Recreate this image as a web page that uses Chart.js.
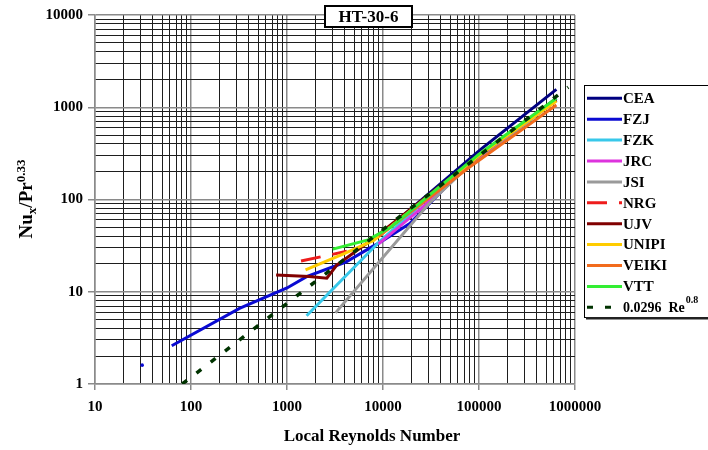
<!DOCTYPE html>
<html>
<head>
<meta charset="utf-8">
<script src="https://cdn.jsdelivr.net/npm/chart.js@4.4.0/dist/chart.umd.min.js"></script>
<style>
  html, body { margin: 0; padding: 0; background: #fff; }
</style>
</head>
<body>
<canvas id="c" width="708" height="450"></canvas>
<script>
// Values (Re_x vs Nu_x/Pr^0.33)
const ceaRe = [9000, 30000, 105000, 640000];
const ceaNu = [40, 116, 351, 1565];

const fzjRe = [63, 320, 1000, 1600, 4100, 7800, 9200, 19000, 60000, 640000];
const fzjNu = [2.6, 6.6, 11, 14.6, 21, 31, 34, 55, 185, 1250];

const fzkRe = [1600, 9200, 30000, 640000];
const fzkNu = [5.5, 35, 105, 1200];

const jrcRe = [9000, 25000, 100000, 640000];
const jrcNu = [33, 80, 290, 1200];

const jsiRe = [3200, 30000, 100000, 640000];
const jsiNu = [5.9, 90, 295, 1200];

const nrgRe = [1400, 4200];
const nrgNu = [21.5, 27.5];

const ujvRe = [770, 1700, 2600, 3300, 7200, 100000, 640000];
const ujvNu = [15.2, 14.6, 14.0, 19.5, 35, 300, 1200];

const unipiRe = [1560, 4000, 8000, 100000, 640000];
const unipiNu = [17.3, 26, 36, 300, 1170];

const veikiRe = [9000, 80000, 640000];
const veikiNu = [40, 225, 1060];

const vttRe = [3000, 7000, 12000, 100000, 640000];
const vttNu = [29, 36.5, 50, 310, 1250];

const corrRe = [81, 850000];
const corrNu = [1.0, 1650];

// stray FZJ point at low Re
const fzjDotRe = [31];
const fzjDotNu = [1.6];

const labels = ["CEA", "FZJ", "FZK", "JRC", "JSI", "NRG", "UJV", "UNIPI", "VEIKI", "VTT", "0.0296 Re"];

// axis decades (tick labels) and minor gridline steps
const reDecades = [10, 100, 1000, 10000, 100000, 1000000];
const nuDecades = [1, 10, 100, 1000, 10000];
const minorSteps = [1, 2, 3, 4, 5, 6, 7, 8, 9];

// styles
const colors = ["#000080", "#0a0ad2", "#38c8ea", "#dd33dd", "#9a9a9a", "#ee1c1c",
                "#800000", "#ffcc00", "#f26b1d", "#33ee33", "#003300"];
const dashes = { "NRG": [20, 12], "0.0296 Re": [6, 12] };

const SERIF = "'Liberation Serif', 'Times New Roman', serif";

const zip = (xs, ys) => xs.map((x, i) => ({ x: x, y: ys[i] }));

const allTicks = (decades) => {
  const out = [];
  decades.forEach((d, i) => {
    if (i === decades.length - 1) { out.push(d); return; }
    minorSteps.forEach(m => out.push(d * m));
  });
  return out;
};
const reTicks = allTicks(reDecades);
const nuTicks = allTicks(nuDecades);

const isDecade = (v) => Math.abs(Math.log10(v) - Math.round(Math.log10(v))) < 1e-9;

const seriesData = [
  [ceaRe, ceaNu], [fzjRe, fzjNu], [fzkRe, fzkNu], [jrcRe, jrcNu], [jsiRe, jsiNu],
  [nrgRe, nrgNu], [ujvRe, ujvNu], [unipiRe, unipiNu], [veikiRe, veikiNu],
  [vttRe, vttNu], [corrRe, corrNu]
];

const datasets = seriesData.map(([re, nu], i) => ({
  label: labels[i],
  data: zip(re, nu),
  showLine: true,
  borderColor: colors[i],
  backgroundColor: colors[i],
  borderWidth: labels[i] === "0.0296 Re" ? 3.5 : 3,
  borderDash: dashes[labels[i]] || [],
  pointRadius: 0,
  tension: 0,
  fill: false,
  order: seriesData.length - i   // Excel-like stacking: later series on top
}));

datasets.push({
  label: "FZJ point",
  noLegend: true,
  data: zip(fzjDotRe, fzjDotNu),
  showLine: false,
  pointRadius: 1.8,
  pointBorderWidth: 0,
  backgroundColor: colors[1],
  borderColor: colors[1],
  order: 20
});

// title box, axis titles and the legend panel
const decor = {
  id: "decor",
  beforeDraw(chart) {
    const ctx = chart.ctx;
    ctx.save();
    ctx.fillStyle = "#fff";
    ctx.fillRect(0, 0, chart.width, chart.height);
    ctx.restore();
  },
  afterDraw(chart) {
    const ctx = chart.ctx;
    ctx.save();

    // title box
    ctx.fillStyle = "#fff";
    ctx.fillRect(324, 5, 89, 23);
    ctx.strokeStyle = "#000";
    ctx.lineWidth = 2;
    ctx.strokeRect(325, 6, 87, 21);
    ctx.fillStyle = "#000";
    ctx.font = "bold 17px " + SERIF;
    ctx.textAlign = "center";
    ctx.textBaseline = "middle";
    ctx.fillText("HT-30-6", 368.5, 17.5);

    // x axis title
    ctx.font = "bold 17px " + SERIF;
    ctx.fillText("Local Reynolds Number", 372, 437);

    // y axis title: Nu_x / Pr^0.33
    const big = "bold 19px " + SERIF, small = "bold 13px " + SERIF;
    const parts = [
      { t: "Nu", f: big, dy: 0 },
      { t: "x", f: small, dy: 4 },
      { t: "/Pr", f: big, dy: 0 },
      { t: "0.33", f: small, dy: -7 }
    ];
    let total = 0;
    parts.forEach(p => { ctx.font = p.f; p.w = ctx.measureText(p.t).width; total += p.w; });
    ctx.translate(32, 199);
    ctx.rotate(-Math.PI / 2);
    ctx.textAlign = "left";
    ctx.textBaseline = "alphabetic";
    let px = -total / 2;
    parts.forEach(p => { ctx.font = p.f; ctx.fillText(p.t, px, p.dy); px += p.w; });
    ctx.setTransform(1, 0, 0, 1, 0, 0);

    // legend panel
    const lx = 584, ly = 85, lw = 130, lh = 232;
    ctx.fillStyle = "#fff";
    ctx.fillRect(lx, ly, lw, lh);
    ctx.strokeStyle = "#000";
    ctx.lineWidth = 1;
    ctx.strokeRect(lx + 0.5, ly + 0.5, lw, lh);
    ctx.fillStyle = "#222";
    ctx.fillRect(lx + 2, ly + lh, lw, 2.5);

    const items = chart.data.datasets.filter(d => !d.noLegend);
    items.forEach((d, i) => {
      const y = 98.3 + i * 20.9;
      ctx.strokeStyle = d.borderColor;
      ctx.lineWidth = 3;
      ctx.setLineDash(d.borderDash || []);
      ctx.beginPath();
      ctx.moveTo(587, y);
      ctx.lineTo(d.label === "0.0296 Re" ? 612 : 622, y);
      ctx.stroke();
      ctx.setLineDash([]);
      ctx.fillStyle = "#000";
      ctx.textBaseline = "middle";
      ctx.textAlign = "left";
      if (d.label === "0.0296 Re") {
        ctx.font = "bold 14px " + SERIF;
        ctx.fillText("0.0296  Re", 623, y + 1);
        const w = ctx.measureText("0.0296  Re").width;
        ctx.font = "bold 10px " + SERIF;
        ctx.fillText("0.8", 623 + w + 1, y - 7);
      } else {
        ctx.font = "bold 15px " + SERIF;
        ctx.fillText(d.label, 623, y + 1);
      }
    });

    ctx.restore();
  }
};

const gridColor = (c) => (c.tick && isDecade(c.tick.value)) ? "#8a8a8a" : "#1e1e1e";
const gridWidth = (c) => (c.tick && isDecade(c.tick.value)) ? 1.5 : 1;
const tickColor = (c) => (c.tick && isDecade(c.tick.value)) ? "#8a8a8a" : "rgba(0,0,0,0)";
const tickFont = { family: SERIF, weight: "bold", size: 15 };

new Chart(document.getElementById("c"), {
  type: "scatter",
  data: { datasets: datasets },
  plugins: [decor],
  options: {
    responsive: false,
    animation: false,
    devicePixelRatio: 1,
    layout: { padding: { left: 0, top: 15, right: 133, bottom: 0 } },
    plugins: { legend: { display: false }, tooltip: { enabled: false } },
    scales: {
      x: {
        type: "logarithmic",
        min: 10,
        max: 1000000,
        afterBuildTicks: (s) => { s.ticks = reTicks.map(v => ({ value: v })); },
        afterFit: (s) => { s.height = 66; },
        grid: { color: gridColor, lineWidth: gridWidth, tickColor: tickColor, tickLength: 6 },
        border: { color: "#8a8a8a", width: 1.5 },
        ticks: {
          autoSkip: false, maxRotation: 0, padding: 8, color: "#000", font: tickFont,
          callback: (v) => reDecades.includes(v) ? String(v) : ""
        }
      },
      y: {
        type: "logarithmic",
        min: 1,
        max: 10000,
        afterBuildTicks: (s) => { s.ticks = nuTicks.map(v => ({ value: v })); },
        afterFit: (s) => { s.width = 95; },
        grid: { color: gridColor, lineWidth: gridWidth, tickColor: tickColor, tickLength: 7 },
        border: { color: "#8a8a8a", width: 1.5 },
        ticks: {
          autoSkip: false, padding: 5, color: "#000", font: tickFont,
          callback: (v) => nuDecades.includes(v) ? String(v) : ""
        }
      }
    }
  }
});
</script>
</body>
</html>
